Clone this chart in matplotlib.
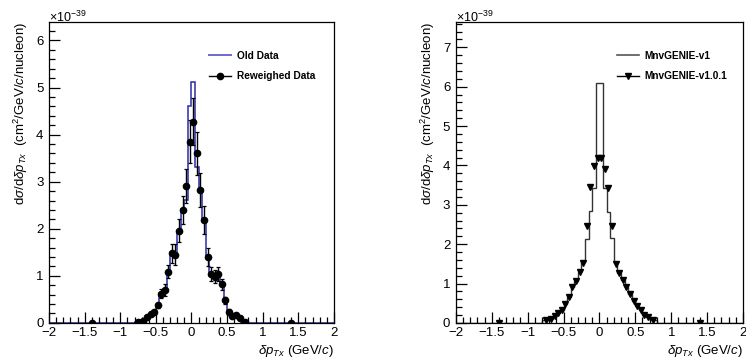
import matplotlib
matplotlib.use("Agg")
import matplotlib.pyplot as plt
from matplotlib.ticker import MultipleLocator, FuncFormatter
from matplotlib.lines import Line2D
import numpy as np

plt.rcParams['font.family'] = ['Liberation Sans', 'DejaVu Sans']
plt.rcParams['mathtext.fontset'] = 'custom'
plt.rcParams['mathtext.rm'] = 'Liberation Sans'
plt.rcParams['mathtext.it'] = 'Liberation Sans:italic'
plt.rcParams['mathtext.bf'] = 'Liberation Sans:bold'

# ---- data (units of 1e-39 cm^2/GeV/c/nucleon) ----
# left panel binning: wide outer bins, 0.05 GeV/c inside
left_edges = [-2.0, -0.8, -0.7, -0.65, -0.6, -0.55, -0.5, -0.45, -0.4, -0.35, -0.3,
              -0.25, -0.2, -0.15, -0.1, -0.05, 0.0, 0.05, 0.1, 0.15, 0.2, 0.25,
              0.3, 0.35, 0.4, 0.45, 0.5, 0.55, 0.6, 0.65, 0.7, 0.8, 2.0]
old_data = [0.0, 0.02, 0.05, 0.12, 0.19, 0.24, 0.38, 0.62, 0.72, 1.08, 1.47, 1.48,
            1.95, 2.42, 2.62, 4.60, 5.12, 3.32, 2.84, 2.16, 1.42, 1.03, 0.99, 1.03,
            0.80, 0.48, 0.24, 0.14, 0.15, 0.11, 0.02, 0.0]
reweighed = [0.0, 0.02, 0.05, 0.12, 0.19, 0.23, 0.37, 0.62, 0.70, 1.09, 1.48, 1.45,
             1.96, 2.40, 2.90, 3.85, 4.27, 3.60, 2.83, 2.18, 1.40, 1.04, 0.98, 1.04,
             0.82, 0.48, 0.24, 0.14, 0.16, 0.11, 0.02, 0.0]
reweighed_err = [0.0, 0.01, 0.02, 0.03, 0.04, 0.04, 0.06, 0.10, 0.12, 0.14, 0.20, 0.22,
                 0.25, 0.30, 0.36, 0.45, 0.50, 0.45, 0.36, 0.30, 0.20, 0.15, 0.14, 0.15,
                 0.12, 0.08, 0.05, 0.03, 0.03, 0.03, 0.01, 0.0]

# right panel: v1 histogram has a merged central bin
v1_edges = [-2.0, -0.8, -0.7, -0.65, -0.6, -0.55, -0.5, -0.45, -0.4, -0.35, -0.3,
            -0.25, -0.2, -0.15, -0.1, -0.05, 0.05, 0.1, 0.15, 0.2, 0.25,
            0.3, 0.35, 0.4, 0.45, 0.5, 0.55, 0.6, 0.65, 0.7, 0.8, 2.0]
v1_vals = [0.01, 0.07, 0.10, 0.17, 0.24, 0.32, 0.48, 0.66, 0.90, 1.06, 1.30, 1.55,
           2.14, 2.85, 3.42, 6.10, 3.42, 2.81, 2.15, 1.55, 1.27, 1.10, 0.90, 0.73,
           0.55, 0.42, 0.32, 0.21, 0.15, 0.07, 0.01]
v101_vals = [0.01, 0.07, 0.10, 0.17, 0.24, 0.32, 0.49, 0.66, 0.90, 1.06, 1.30, 1.53,
             2.46, 3.46, 3.98, 4.20, 4.20, 3.92, 3.43, 2.47, 1.49, 1.27, 1.10, 0.90,
             0.73, 0.55, 0.42, 0.32, 0.21, 0.15, 0.07, 0.01]

left_centers = 0.5 * (np.array(left_edges[:-1]) + np.array(left_edges[1:]))

fig = plt.figure(figsize=(7.46, 3.62), dpi=100)
ax1 = fig.add_axes([0.0657, 0.108, 0.382, 0.831])
ax2 = fig.add_axes([0.611, 0.108, 0.385, 0.831])

ylab = r'd$\sigma$/d$\delta\mathit{p}_{T\mathit{x}}$  (cm$^{2}$/GeV/$\mathit{c}$/nucleon)'
xlab = r'$\delta\mathit{p}_{T\mathit{x}}$ (GeV/$\mathit{c}$)'


def fmt(v, pos):
    return ('%g' % round(v, 3)).replace('-', '\u2212')


def style(ax, ymax):
    ax.set_xlim(-2, 2)
    ax.set_ylim(0, ymax)
    ax.xaxis.set_major_locator(MultipleLocator(0.5))
    ax.xaxis.set_minor_locator(MultipleLocator(0.1))
    ax.yaxis.set_major_locator(MultipleLocator(1))
    ax.yaxis.set_minor_locator(MultipleLocator(0.2))
    ax.xaxis.set_major_formatter(FuncFormatter(fmt))
    ax.yaxis.set_major_formatter(FuncFormatter(fmt))
    ax.tick_params(which='both', direction='in', labelsize=9.5, width=0.9)
    ax.tick_params(which='major', length=8)
    ax.tick_params(which='minor', length=4)
    ax.tick_params(axis='x', pad=3)
    ax.tick_params(axis='y', pad=4)
    for s in ax.spines.values():
        s.set_linewidth(0.9)
    ax.set_ylabel(ylab, fontsize=9.5, loc='top', labelpad=4)
    ax.set_xlabel(xlab, fontsize=9.5, loc='right', labelpad=3)
    ax.text(0.0, 1.016, r'$\times$10$^{-39}$', transform=ax.transAxes,
            fontsize=9, ha='left', va='center')


leg_kw = dict(loc='upper left', bbox_to_anchor=(0.53, 0.935), frameon=False,
              prop={'weight': 'bold', 'size': 7.3}, handlelength=2.2,
              labelspacing=1.05, handletextpad=0.5)

# left panel
style(ax1, 6.39)
ax1.stairs(old_data, left_edges, color='#2b2ba8', lw=1.1)
ax1.errorbar(left_centers, reweighed, yerr=reweighed_err, fmt='o', color='black',
             ms=4.5, elinewidth=1.0, capsize=1.5, capthick=0.9)
h1 = [Line2D([], [], color='#6b6bc8', lw=1.4),
      Line2D([], [], color='black', lw=1.0, marker='o', ms=4.5)]
ax1.legend(h1, ['Old Data', 'Reweighed Data'], **leg_kw)

# right panel
style(ax2, 7.64)
ax2.stairs(v1_vals, v1_edges, color='#333333', lw=1.0)
ax2.plot(left_centers, v101_vals, 'v', color='black', ms=4.3)
h2 = [Line2D([], [], color='#555555', lw=1.2),
      Line2D([], [], color='black', lw=1.0, marker='v', ms=4.3)]
ax2.legend(h2, ['MnvGENIE-v1', 'MnvGENIE-v1.0.1'], **leg_kw)

fig.savefig('out.png', dpi=100)
